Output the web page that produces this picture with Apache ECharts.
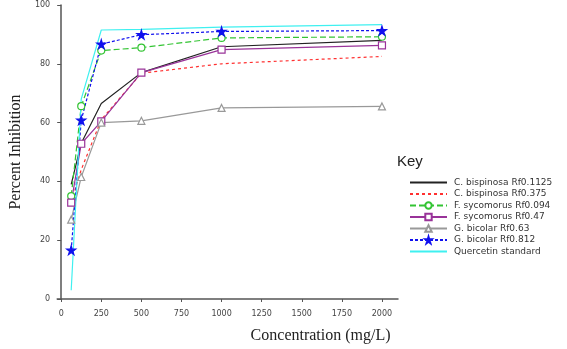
<!DOCTYPE html>
<html lang="en">
<head>
    <meta charset="UTF-8" />
    <title>Percent Inhibition</title>
    <script src="https://cdn.jsdelivr.net/npm/echarts@6.0.0/dist/echarts.min.js"></script>
    <style>
        html, body { margin: 0; padding: 0; background: #fff; }
    </style>
</head>
<body>
    <div id="main" style="width: 567px; height: 349px"></div>
    <script>
        // concentrations (mg/L)
        var conc = [62.5, 125, 250, 500, 1000, 2000];
        var xTicks = [0, 250, 500, 750, 1000, 1250, 1500, 1750, 2000];

        var cbis1125 = [39, 53, 66.5, 77, 85.8, 88];
        var cbis375 = [33, 44, 61, 76.8, 80, 82.5];
        var fsyc094 = [35, 65.6, 84.5, 85.5, 88.8, 89.2];
        var fsyc47 = [32.8, 52.8, 60.4, 77, 84.8, 86.3];
        var gbic63 = [27, 41.5, 60, 60.6, 65, 65.5];
        var gbic812 = [16.6, 60.8, 86.7, 89.9, 91, 91.3];
        var quercetin = [3, 68, 91.5, 91.7, 92.5, 93.3];

        var star = "path://M50,0 L61,35 L98,35 L68,57 L79,91 L50,70 L21,91 L32,57 L2,35 L39,35 Z";

        function pairs(vals) {
            return conc.map(function (c, i) { return [c, vals[i]]; });
        }

        function line(name, vals, color, type, symbol, size, filled) {
            return {
                name: name,
                type: "line",
                data: pairs(vals),
                symbol: symbol || "none",
                symbolSize: size || 7,
                showSymbol: !!symbol,
                lineStyle: { color: color, width: 1.2, type: type },
                itemStyle: {
                    color: filled ? color : "#fff",
                    borderColor: color,
                    borderWidth: 1.2,
                },
                emphasis: { disabled: true },
                animation: false,
            };
        }

        var series = [
            line("C. bispinosa Rf0.1125", cbis1125, "#222", "solid"),
            line("C. bispinosa Rf0.375", cbis375, "#ff3030", [3, 3]),
            line("F. sycomorus Rf0.094", fsyc094, "#33c433", [6, 3], "circle", 7),
            line("F. sycomorus Rf0.47", fsyc47, "#993399", "solid", "rect", 7),
            line("G. bicolar Rf0.63", gbic63, "#999", "solid", "triangle", 7),
            line("G. bicolar Rf0.812", gbic812, "#1010ee", [3, 2], star, 9, true),
            line("Quercetin standard", quercetin, "#3ff0f0", "solid"),
        ];

        // legend entries: hide the marker for series drawn without one
        var legendData = series.map(function (s) {
            var item = { name: s.name };
            if (s.symbol === "none") item.itemStyle = { opacity: 0 };
            return item;
        });

        var chart = echarts.init(document.getElementById("main"));

        var option = {
            backgroundColor: "#fff",
            grid: { left: 48, top: 5, width: 350, bottom: 48 },
            xAxis: {
                type: "value",
                min: -25,
                max: 2100,
                offset: 5,
                splitLine: { show: false },
                axisLine: { lineStyle: { color: "#555", width: 1.5 } },
                axisTick: { customValues: xTicks, length: 3, lineStyle: { color: "#555" } },
                axisLabel: {
                    customValues: xTicks,
                    formatter: function (v) { return String(v); },
                    fontSize: 8,
                    color: "#444",
                    margin: 6,
                    fontFamily: "DejaVu Sans",
                },
                name: "Concentration (mg/L)",
                nameLocation: "middle",
                nameGap: 24,
                nameTextStyle: {
                    fontFamily: "Liberation Serif",
                    fontSize: 16,
                    color: "#222",
                    padding: [0, 0, 0, 186],
                },
            },
            yAxis: {
                type: "value",
                min: 0,
                max: 100,
                interval: 20,
                splitLine: { show: false },
                axisLine: { show: true, lineStyle: { color: "#555", width: 1.5 } },
                axisTick: { show: true, length: 4, lineStyle: { color: "#555" } },
                axisLabel: { fontSize: 8, color: "#444", margin: 7, fontFamily: "DejaVu Sans" },
                name: "Percent Inhibition",
                nameLocation: "middle",
                nameGap: 33,
                nameTextStyle: {
                    fontFamily: "Liberation Serif",
                    fontSize: 16,
                    color: "#222",
                },
            },
            legend: {
                orient: "vertical",
                left: 404,
                top: 173,
                itemWidth: 37,
                itemHeight: 8,
                itemGap: 2.5,
                data: legendData,
                textStyle: { fontSize: 9, color: "#333", fontFamily: "DejaVu Sans", padding: [0, 0, 0, 2] },
            },
            graphic: [
                {
                    type: "text",
                    left: 397,
                    top: 154,
                    style: { text: "Key", fontSize: 15, fontFamily: "Liberation Sans", fill: "#222" },
                },
            ],
            series: series,
        };

        chart.setOption(option);
    </script>
</body>
</html>
